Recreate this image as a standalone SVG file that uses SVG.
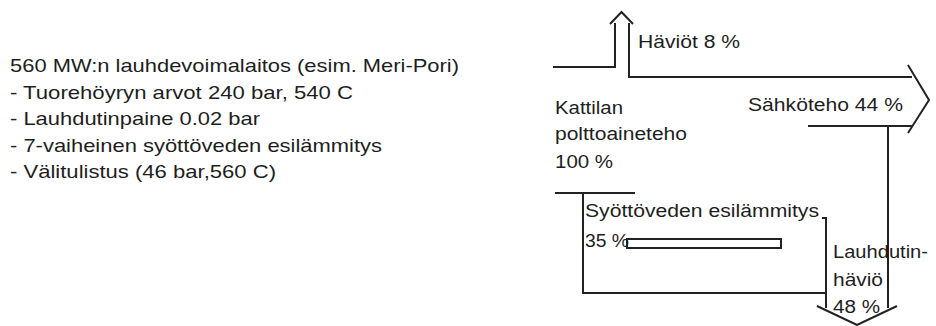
<svg xmlns="http://www.w3.org/2000/svg" width="936" height="326" viewBox="0 0 936 326">
<style>
.t{font-family:"Liberation Sans",Arial,sans-serif;fill:#1e1e1e}
.l{font-size:18.5px}
.r{font-size:17.5px}
.ln{fill:none;stroke:#222;stroke-width:2;stroke-linejoin:miter}
</style>
<rect width="936" height="326" fill="#fff"/>
<g id="info">
<text class="t l" x="10" y="72" textLength="449" lengthAdjust="spacingAndGlyphs">560 MW:n lauhdevoimalaitos (esim. Meri-Pori)</text>
<text class="t l" x="10" y="99" textLength="343" lengthAdjust="spacingAndGlyphs">- Tuorehöyryn arvot 240 bar, 540 C</text>
<text class="t l" x="10" y="125" textLength="250" lengthAdjust="spacingAndGlyphs">- Lauhdutinpaine 0.02 bar</text>
<text class="t l" x="10" y="152" textLength="372" lengthAdjust="spacingAndGlyphs">- 7-vaiheinen syöttöveden esilämmitys</text>
<text class="t l" x="10" y="178" textLength="266" lengthAdjust="spacingAndGlyphs">- Välitulistus (46 bar,560 C)</text>
</g>
<g id="connectors">
<path class="ln" d="M553,67 H615 V23"/>
<path class="ln" d="M610,24 L621.5,12 L633,24"/>
<path class="ln" d="M629,23 V77 H912"/>
<path class="ln" d="M908,65 L929,100 L908,133"/>
<path class="ln" d="M808,126 H912"/>
<path class="ln" d="M888,126 V308"/>
<path class="ln" d="M555,193 H635"/>
<path class="ln" d="M583,193 V293 H826 V218 H822"/>
<path class="ln" d="M826,218 V308"/>
<path class="ln" d="M817,306 L857,325 L897,306"/>
<rect class="ln" x="627" y="239" width="154" height="9"/>
</g>
<g id="losses"><text class="t r" x="638" y="48" textLength="102" lengthAdjust="spacingAndGlyphs">Häviöt 8 %</text></g>
<g id="power"><text class="t r" x="748" y="111" textLength="155" lengthAdjust="spacingAndGlyphs">Sähköteho 44 %</text></g>
<g id="fuel">
<text class="t r" x="555" y="114" textLength="68" lengthAdjust="spacingAndGlyphs">Kattilan</text>
<text class="t r" x="555" y="140" textLength="132" lengthAdjust="spacingAndGlyphs">polttoaineteho</text>
<text class="t r" x="555" y="168" textLength="58" lengthAdjust="spacingAndGlyphs">100 %</text>
</g>
<g id="feedwater">
<text class="t r" x="585" y="217" textLength="234" lengthAdjust="spacingAndGlyphs">Syöttöveden esilämmitys</text>
<text class="t r" x="585" y="247" textLength="44" lengthAdjust="spacingAndGlyphs">35 %</text>
</g>
<g id="condenser">
<text class="t r" x="833" y="258" textLength="95" lengthAdjust="spacingAndGlyphs">Lauhdutin-</text>
<text class="t r" x="833" y="286" textLength="50" lengthAdjust="spacingAndGlyphs">häviö</text>
<text class="t r" x="833" y="313" textLength="47" lengthAdjust="spacingAndGlyphs">48 %</text>
</g>
</svg>
